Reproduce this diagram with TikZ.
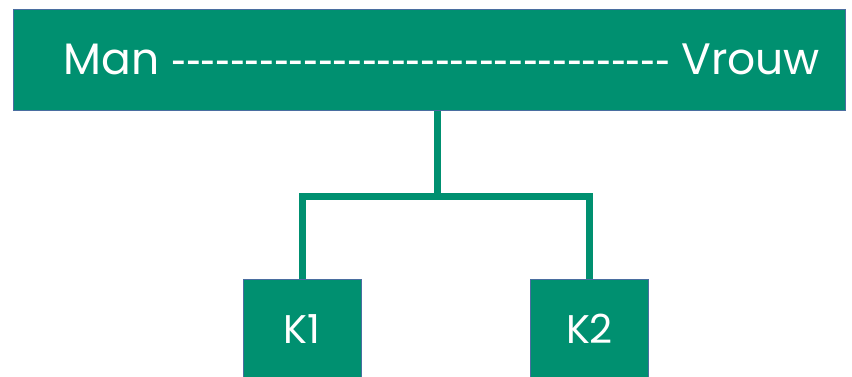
\documentclass[tikz,border=0pt]{standalone}
\usepackage{fontspec}
\setmainfont{Poppins}[Ligatures=TeXOff]
\newfontfamily\dashfont{Liberation Sans}[Ligatures=TeXOff]
\usetikzlibrary{positioning}
\definecolor{famgreen}{RGB}{0,144,112}
\definecolor{famedge}{RGB}{74,110,160}
\tikzset{box/.style={draw=famedge,line width=1pt,fill=famgreen,inner sep=0pt}}
\tikzset{kid/.style={box,minimum width=118pt,minimum height=98pt,text=white,font=\fontsize{40}{40}\selectfont}}
\tikzset{big/.style={text=white,inner sep=0pt,font=\fontsize{44}{44}\selectfont}}
\tikzset{link/.style={draw=famgreen,line width=7pt}}

\begin{document}
\begin{tikzpicture}[x=1pt,y=1pt]
            \useasboundingbox (0,0) rectangle (852,377);
            \node[box,minimum width=832pt,minimum height=101pt] (couple) at (429,316.5) {};
            \node[big] (names) at (442,318) {Man {\dashfont----------------------------------} Vrouw};
            \node[kid] (k1) at (302,48) {K1};
            \node[kid] (k2) at (589.5,48) {K2};
            \coordinate (split) at (437,180);
            \draw[link] (couple.south -| split) -- (split) -| (k1.north);
            \draw[link] (split) -| (k2.north);
          \end{tikzpicture}
\end{document}
